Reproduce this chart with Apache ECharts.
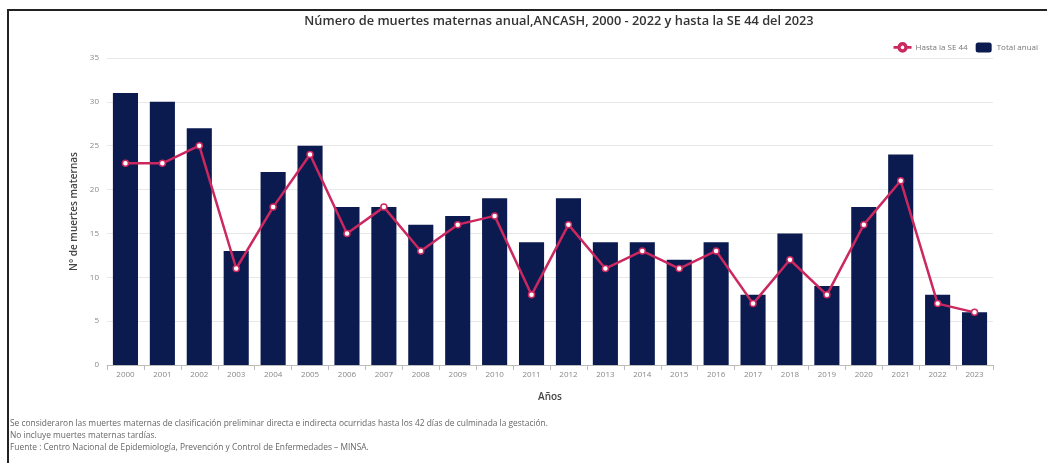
<!DOCTYPE html>
<html><head><meta charset="utf-8">
<script src="https://cdn.jsdelivr.net/npm/echarts@6/dist/echarts.min.js"></script>
<style>
html,body{margin:0;padding:0;background:#fff;}
#frame{position:absolute;left:7px;top:9px;width:1040px;height:454px;border-top:2px solid #222;border-left:2px solid #222;box-sizing:border-box;}
#chart{position:absolute;left:0;top:0;width:1047px;height:463px;}
</style></head>
<body>
<div id="frame"></div>
<div id="chart"></div>
<script>
const years = ['2000','2001','2002','2003','2004','2005','2006','2007','2008','2009','2010','2011','2012','2013','2014','2015','2016','2017','2018','2019','2020','2021','2022','2023'];
const totalAnual = [31,30,27,13,22,25,18,18,16,17,19,14,19,14,14,12,14,8,15,9,18,24,8,6];
const hastaSE44 = [23,23,25,11,18,24,15,18,13,16,17,8,16,11,13,11,13,7,12,8,16,21,7,6];
const yTicks = [0,5,10,15,20,25,30,35];
const footnotes = [
 'Se consideraron las muertes maternas de clasificación preliminar directa e indirecta ocurridas hasta los 42 días de culminada la gestación.',
 'No incluye muertes maternas tardías.',
 'Fuente : Centro Nacional de Epidemiología, Prevención y Control de Enfermedades – MINSA.'
];

const chart = echarts.init(document.getElementById('chart'));
chart.setOption({
  animation:false,
  textStyle:{fontFamily:'Open Sans'},
  title:{
    text:'Número de muertes maternas anual,ANCASH, 2000 - 2022 y hasta la SE 44 del 2023',
    left:554, top:10, textAlign:'center',
    textStyle:{fontSize:12.8, fontWeight:600, color:'#333', fontFamily:'Open Sans'}
  },
  legend:{
    right:4, top:37, itemGap:8, itemWidth:16, itemHeight:10,
    textStyle:{fontSize:8, color:'#777'},
    data:[{name:'Hasta la SE 44', icon:'path://M0,4.5 L5,4.5 A5,5 0 1 1 15,4.5 L20,4.5 L20,5.5 L15,5.5 A5,5 0 1 1 5,5.5 L0,5.5 Z M10,1.5 A3.5,3.5 0 1 0 10.001,1.5 Z'},
          {name:'Total anual', icon:'roundRect'}]
  },
  grid:{left:107, right:54, top:58, bottom:98, containLabel:false},
  xAxis:{
    type:'category', data:years,
    name:'Años', nameLocation:'middle', nameGap:27,
    nameTextStyle:{fontSize:10, fontWeight:600, color:'#444'},
    axisLine:{lineStyle:{color:'#bbb'}},
    axisTick:{show:true, alignWithLabel:false, lineStyle:{color:'#bbb'}},
    axisLabel:{fontSize:8, color:'#888', margin:6}
  },
  yAxis:{
    type:'value', min:0, max:35, interval:5,
    name:'N° de muertes maternas', nameLocation:'middle', nameGap:28,
    nameTextStyle:{fontSize:10, fontWeight:600, color:'#444'},
    axisLine:{show:false}, axisTick:{show:false},
    axisLabel:{fontSize:8, color:'#888', margin:8},
    splitLine:{lineStyle:{color:'#e8e8e8'}}
  },
  series:[
    {name:'Total anual', type:'bar', data:totalAnual, barWidth:'68%', itemStyle:{color:'#0b1a4f'}, z:1},
    {name:'Hasta la SE 44', type:'line', data:hastaSE44, symbol:'circle', symbolSize:6,
     lineStyle:{color:'#cc2860', width:2.5}, itemStyle:{color:'#fff', borderColor:'#cc2860', borderWidth:1.5}, z:3}
  ],
  graphic: footnotes.map((t,i)=>({
    type:'text', left:10, top:420+i*12,
    style:{text:t, fontSize:8.4, fill:'#666', fontFamily:'Open Sans'}
  }))
});
</script>
</body></html>
